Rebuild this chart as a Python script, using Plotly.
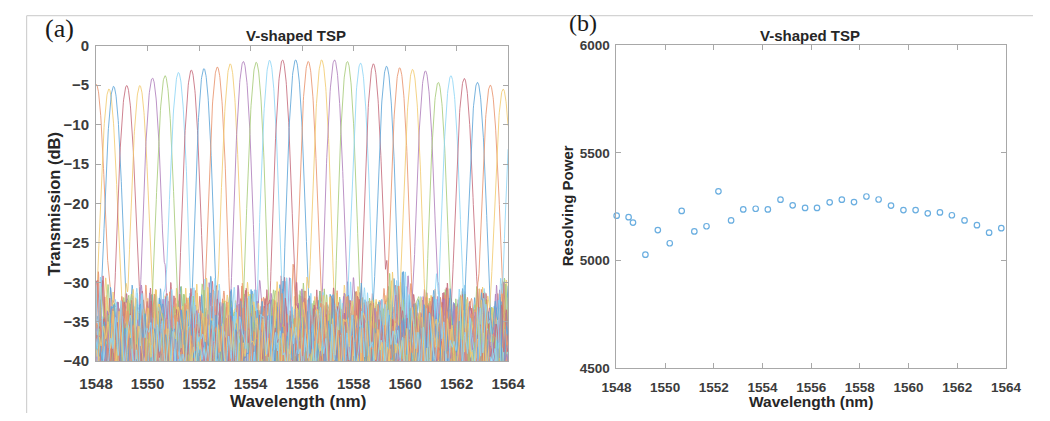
import numpy as np
import plotly.graph_objects as go

W, H = 1050, 421

# ---------------- data ----------------
# channel centre wavelengths (nm) and resolving power, panel (b)
peak_wl = [1548.01, 1548.50, 1548.68, 1549.19, 1549.70, 1550.19, 1550.68, 1551.20,
           1551.70, 1552.19, 1552.71, 1553.21, 1553.72, 1554.22, 1554.74, 1555.24,
           1555.75, 1556.24, 1556.76, 1557.26, 1557.76, 1558.27, 1558.77, 1559.28,
           1559.79, 1560.29, 1560.79, 1561.29, 1561.78, 1562.30, 1562.81, 1563.31,
           1563.81]
resolving_power = [5209, 5202, 5177, 5028, 5142, 5081, 5231, 5136, 5160, 5322, 5187,
                   5238, 5241, 5238, 5283, 5257, 5245, 5245, 5271, 5283, 5272, 5298,
                   5284, 5256, 5235, 5235, 5220, 5224, 5211, 5187, 5165, 5130, 5151]

# panel (a): one extra channel just beyond the right edge
extra_wl = 1564.24
extra_rp = 5200
peak_db = [-4.9, -5.5, -5.15, -5.05, -5.05, -4.1, -3.8, -3.4, -3.1, -2.9, -2.7, -2.3,
           -2.0, -2.1, -1.85, -1.8, -1.8, -2.0, -1.8, -1.8, -2.0, -2.2, -2.3, -2.6,
           -2.8, -3.0, -3.2, -4.65, -3.8, -4.15, -4.65, -5.0, -5.5, -5.5]
channel_color = ["orange", "yellow", "blue", "red", "yellow", "purple", "green", "cyan",
                 "red", "blue", "orange", "yellow", "purple", "green", "cyan", "red",
                 "blue", "orange", "yellow", "purple", "green", "cyan", "red", "blue",
                 "orange", "yellow", "purple", "green", "cyan", "red", "blue", "orange",
                 "yellow", "cyan"]
floor_db = -37.3       # crosstalk floor level
x_ticks = [1548, 1550, 1552, 1554, 1556, 1558, 1560, 1562, 1564]

palette = {"blue": "#5fa5d8", "orange": "#e8946e", "yellow": "#f2cb70",
           "purple": "#b07fbc", "green": "#a8cb7a", "cyan": "#8fd6f5", "red": "#c56b7c"}

# ---------------- build spectra ----------------
centres = peak_wl + [extra_wl]
rps = resolving_power + [extra_rp]
wl = np.arange(1548.0, 1564.0001, 0.01)
periods = [0.19, 0.26, 0.37, 0.55, 0.9]

fig = go.Figure()
for i, (c, r, p, col) in enumerate(zip(centres, rps, peak_db, channel_color)):
    fwhm = c / r
    main = p - 12.04 * ((wl - c) / fwhm) ** 2
    ripple = np.zeros_like(wl)
    for k, per in enumerate(periods):
        ph = 2 * np.pi * ((i * 0.6180339 + k * 0.4142136 + i * k * 0.2360679) % 1.0)
        ripple += np.sin(2 * np.pi * (wl - 1548) / (per * (1 + 0.08 * ((i * 0.381966) % 1.0))) + ph)
    flo = floor_db + 1.75 * ripple + 4.5 * np.exp(-((wl - c) / 0.6) ** 2)
    tot = 10 * np.log10(10 ** (main / 10) + 10 ** (flo / 10))
    fig.add_trace(go.Scatter(x=wl, y=tot, mode="lines", xaxis="x", yaxis="y",
                             line=dict(color=palette[col], width=0.85),
                             showlegend=False, hoverinfo="skip"))

fig.add_trace(go.Scatter(x=peak_wl, y=resolving_power, mode="markers", xaxis="x2", yaxis="y2",
                         marker=dict(symbol="circle-open", size=5.5, color="#6aaee0",
                                     line=dict(width=1.2, color="#6aaee0")),
                         showlegend=False, cliponaxis=False))

# ---------------- layout (positions in page pixels) ----------------
def px(x):
    return x / W

def py(y):
    return 1 - y / H

L = dict(x0=81.7, x1=507.5, y0=38.3, y1=367.0)
R = dict(x0=619.5, x1=1022.0, y0=37.7, y1=374.6)

axcol = "#a8a8a8"
tickfontL = dict(family="Liberation Sans, Arial, sans-serif", size=15, color="#3c3c3c", weight="bold")
tickfontR = dict(family="Liberation Sans, Arial, sans-serif", size=13.5, color="#3c3c3c", weight="bold")

common = dict(showline=True, linecolor=axcol, linewidth=1, mirror="allticks", ticks="inside",
              ticklen=5, tickcolor=axcol, tickwidth=1, showgrid=False, zeroline=False)

fig.update_layout(
    width=W, height=H, margin=dict(l=0, r=0, t=0, b=0),
    paper_bgcolor="white", plot_bgcolor="white",
    xaxis=dict(domain=[px(L["x0"]), px(L["x1"])], range=[1548, 1564], tickvals=x_ticks,
               anchor="y", tickfont=tickfontL, ticklabelstandoff=9, **common),
    yaxis=dict(domain=[py(L["y1"]), py(L["y0"])], range=[-40, 0], dtick=5, tick0=0,
               anchor="x", tickfont=tickfontL, ticklabelstandoff=3, **common),
    xaxis2=dict(domain=[px(R["x0"]), px(R["x1"])], range=[1548, 1564], tickvals=x_ticks,
                anchor="y2", tickfont=tickfontR, ticklabelstandoff=6, **common),
    yaxis2=dict(domain=[py(R["y1"]), py(R["y0"])], range=[4500, 6000], dtick=500, tick0=4500,
                anchor="x2", tickfont=tickfontR, ticklabelstandoff=3, **common),
)

bold = dict(family="Liberation Sans, Arial, sans-serif", color="#262626", weight="bold")
serif_family = "Liberation Serif, Times New Roman, serif"

ann = [
    dict(text="V-shaped TSP", x=px(288.5), y=py(28), font=dict(size=15, **bold)),
    dict(text="V-shaped TSP", x=px(820), y=py(28), font=dict(size=15, **bold)),
    dict(text="Wavelength (nm)", x=px(290), y=py(409), font=dict(size=17, **bold)),
    dict(text="Wavelength (nm)", x=px(821), y=py(409), font=dict(size=15.5, **bold)),
    dict(text="Transmission (dB)", x=px(38.5), y=py(203), textangle=-90, font=dict(size=16.5, **bold)),
    dict(text="Resolving Power", x=px(569), y=py(205), textangle=-90, font=dict(size=15, **bold)),
    dict(text="(a)", x=px(44), y=py(20), font=dict(family=serif_family, color="#1a1a1a", size=26)),
    dict(text="(b)", x=px(585), y=py(15), font=dict(family=serif_family, color="#1a1a1a", size=24)),
]
fig.update_layout(annotations=[dict(xref="paper", yref="paper", showarrow=False,
                                    xanchor="center", yanchor="middle", **a) for a in ann])

fig.update_layout(shapes=[
    dict(type="line", xref="paper", yref="paper", x0=px(10), x1=1, y0=py(7), y1=py(7),
         line=dict(color="#c8c8c8", width=1)),
    dict(type="line", xref="paper", yref="paper", x0=px(10), x1=px(10), y0=py(7), y1=0,
         line=dict(color="#c8c8c8", width=1)),
])

fig.write_html("out.html")
